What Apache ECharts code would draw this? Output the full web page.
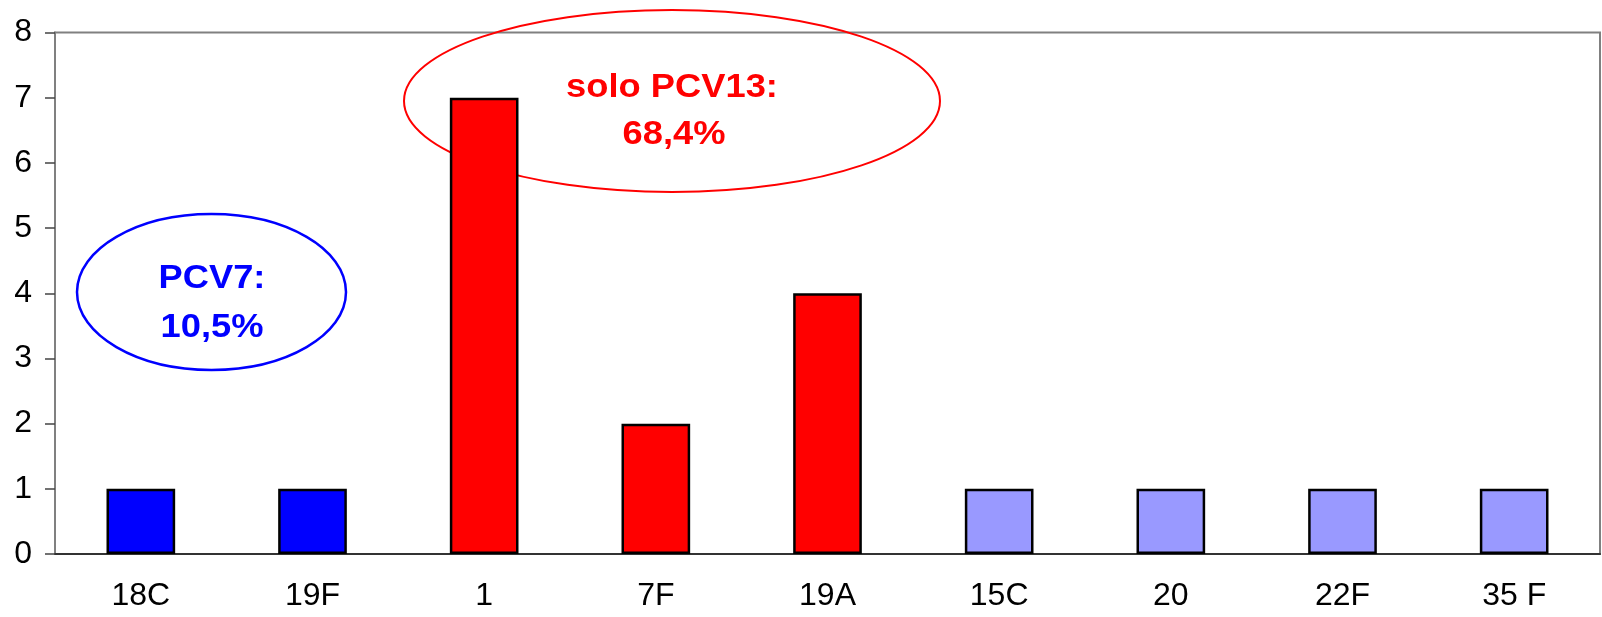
<!DOCTYPE html>
<html>
<head>
<meta charset="utf-8">
<script src="https://cdn.jsdelivr.net/npm/echarts@6/dist/echarts.min.js"></script>
<style>
  html, body { margin: 0; padding: 0; background: #fff; }
  #chart { width: 1602px; height: 617px; }
</style>
</head>
<body>
<div id="chart"></div>
<script>
// serotypes and counts
var categories = ['18C', '19F', '1', '7F', '19A', '15C', '20', '22F', '35 F'];
var counts = [1, 1, 7, 2, 4, 1, 1, 1, 1];
var groups = ['PCV7', 'PCV7', 'PCV13', 'PCV13', 'PCV13', 'other', 'other', 'other', 'other'];
var yTicks = [0, 1, 2, 3, 4, 5, 6, 7, 8];

var groupColor = { PCV7: '#0000FF', PCV13: '#FF0000', other: '#9999FF' };
var font = '"Liberation Sans", Arial, sans-serif';

var barData = [];
for (var i = 0; i < counts.length; i++) {
  barData.push({
    value: counts[i],
    itemStyle: { color: groupColor[groups[i]] }
  });
}

// annotation text, scaled a little wider like the original
function label(text, x, y, color) {
  return {
    type: 'text',
    x: x,
    y: y,
    scaleX: 1.1,
    z: 10,
    style: {
      text: text,
      x: 0,
      y: 0,
      fill: color,
      font: 'bold 33px ' + font,
      align: 'center',
      verticalAlign: 'middle'
    }
  };
}

var myChart = echarts.init(document.getElementById('chart'));
myChart.setOption({
  animation: false,
  backgroundColor: '#fff',
  grid: {
    left: 55,
    right: 2,
    top: 32.5,
    bottom: 63,
    show: true,
    borderColor: '#808080',
    borderWidth: 2
  },
  xAxis: {
    type: 'category',
    data: categories,
    axisLine: { show: true, lineStyle: { color: '#333', width: 2 } },
    axisTick: { show: false },
    axisLabel: {
      color: '#000',
      fontSize: 32,
      fontFamily: font,
      margin: 26
    }
  },
  yAxis: {
    type: 'value',
    min: yTicks[0],
    max: yTicks[yTicks.length - 1],
    interval: 1,
    axisLine: { show: true, lineStyle: { color: '#808080', width: 2 } },
    axisTick: { show: true, length: 10, lineStyle: { color: '#444', width: 1.5 } },
    splitLine: { show: false },
    axisLabel: {
      color: '#000',
      fontSize: 32,
      fontFamily: font,
      margin: 23
    }
  },
  series: [
    {
      type: 'bar',
      data: barData,
      barWidth: '40%',
      z: 5,
      itemStyle: { borderColor: '#000', borderWidth: 2.5 }
    }
  ],
  graphic: [
    {
      type: 'ellipse',
      z: 1,
      shape: { cx: 211.5, cy: 292, rx: 134.5, ry: 78 },
      style: { fill: 'transparent', stroke: '#0000FF', lineWidth: 2.5 }
    },
    {
      type: 'ellipse',
      z: 1,
      shape: { cx: 672, cy: 101, rx: 268, ry: 91 },
      style: { fill: 'transparent', stroke: '#FF0000', lineWidth: 2 }
    },
    label('PCV7:', 212, 279, '#0000FF'),
    label('10,5%', 212, 328, '#0000FF'),
    label('solo PCV13:', 672, 88, '#FF0000'),
    label('68,4%', 674, 135, '#FF0000')
  ]
});
</script>
</body>
</html>
